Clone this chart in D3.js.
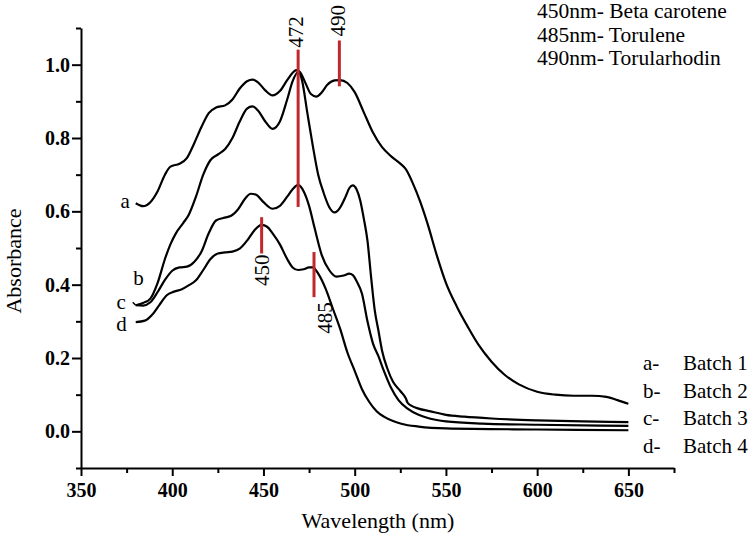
<!DOCTYPE html>
<html><head><meta charset="utf-8">
<script src="https://cdn.jsdelivr.net/npm/d3@7"></script>
</head>
<body style="margin:0">
<svg id="chart" width="750" height="536"></svg>
<script>
// ---- data (wavelength nm, absorbance) ----
const batch1 = [[380,0.622],[384,0.614],[388,0.625],[392,0.655],[396,0.700],[399,0.722],[404,0.730],[408,0.745],[412,0.785],[416,0.830],[420,0.868],[424,0.883],[429,0.889],[433,0.905],[437,0.935],[441,0.955],[444,0.959],[447,0.952],[451,0.930],[455,0.916],[459,0.928],[463,0.958],[466,0.978],[468,0.985],[470,0.980],[473,0.950],[476,0.920],[479,0.913],[482,0.925],[485,0.945],[489,0.957],[492,0.958],[496,0.950],[500,0.925],[505,0.870],[510,0.815],[515,0.775],[520,0.750],[525,0.730],[528,0.715],[532,0.675],[536,0.625],[540,0.565],[545,0.480],[550,0.405],[556,0.340],[562,0.285],[568,0.235],[575,0.190],[582,0.155],[590,0.128],[600,0.108],[610,0.100],[620,0.097],[630,0.097],[638,0.094],[644,0.085],[650,0.075]];
const batch2 = [[380,0.344],[384,0.350],[388,0.362],[392,0.405],[396,0.470],[399,0.510],[402,0.540],[406,0.568],[409,0.590],[413,0.640],[417,0.700],[421,0.740],[425,0.755],[429,0.770],[433,0.800],[437,0.845],[441,0.880],[444,0.886],[447,0.875],[451,0.845],[455,0.825],[459,0.845],[463,0.905],[466,0.955],[469,0.980],[471,0.960],[474,0.870],[477,0.780],[480,0.700],[483,0.650],[486,0.612],[489,0.597],[492,0.610],[495,0.640],[497,0.663],[499,0.671],[501,0.660],[503,0.630],[505,0.580],[507,0.520],[509,0.420],[511,0.330],[513,0.275],[515,0.220],[518,0.170],[521,0.135],[525,0.110],[528,0.090],[529,0.078],[531,0.070],[535,0.062],[541,0.055],[550,0.045],[560,0.040],[575,0.035],[600,0.030],[625,0.027],[650,0.025]];
const batch3 = [[380,0.344],[384,0.343],[388,0.352],[392,0.380],[396,0.413],[400,0.438],[404,0.447],[408,0.449],[412,0.462],[416,0.490],[420,0.540],[424,0.575],[428,0.582],[432,0.587],[436,0.605],[440,0.635],[443,0.648],[446,0.645],[450,0.625],[455,0.607],[459,0.615],[463,0.640],[466,0.660],[469,0.672],[472,0.655],[475,0.615],[478,0.555],[482,0.480],[486,0.440],[490,0.422],[494,0.425],[497,0.430],[499,0.426],[501,0.410],[504,0.375],[507,0.300],[510,0.240],[513,0.205],[516,0.165],[520,0.118],[524,0.085],[529,0.062],[535,0.045],[541,0.035],[550,0.027],[570,0.021],[600,0.018],[650,0.015]];
const batch4 = [[380,0.298],[385,0.302],[389,0.318],[393,0.345],[397,0.371],[401,0.381],[405,0.387],[409,0.398],[413,0.412],[417,0.440],[421,0.470],[425,0.485],[429,0.488],[433,0.490],[437,0.498],[441,0.520],[445,0.548],[449,0.563],[452,0.558],[455,0.540],[459,0.510],[463,0.470],[466,0.447],[469,0.440],[472,0.442],[475,0.447],[477,0.447],[480,0.430],[484,0.390],[488,0.335],[492,0.280],[496,0.215],[500,0.165],[504,0.115],[508,0.080],[512,0.055],[516,0.040],[521,0.028],[526,0.020],[535,0.013],[550,0.008],[600,0.005],[650,0.003]];
const seriesLetters = ["a","b","c","d"];
const legendNames = ["Batch 1","Batch 2","Batch 3","Batch 4"];
const xMajorTicks = [350,400,450,500,550,600,650];
const xMinorTicks = [375,425,475,525,575,625,675];
const yMajorTicks = [0.0,0.2,0.4,0.6,0.8,1.0];
const yMinorTicks = [-0.1,0.1,0.3,0.5,0.7,0.9,1.1];
// peak markers: position nm, absorbance from/to, label
const markerPos = [469, 491.6, 449, 477.7];
const markerFrom = [0.612, 0.941, 0.485, 0.366];
const markerTo = [1.041, 1.066, 0.584, 0.489];
const markerText = ["472","490","450","485"];
const peakNotes = ["450nm- Beta carotene","485nm- Torulene","490nm- Torularhodin"];

const FONT = "Liberation Serif";
const svg = d3.select("#chart");
const x = d3.scaleLinear().domain([350,675]).range([81,674]);
const y = d3.scaleLinear().domain([-0.1,1.1]).range([468,28]);

function txt(sel){ return sel.attr("font-family",FONT).style("font-family",FONT); }

// axes
const gx = svg.append("g").attr("transform","translate(0,468)")
  .call(d3.axisBottom(x).tickValues(xMajorTicks).tickFormat(d3.format("d")).tickSize(8).tickSizeOuter(0).tickPadding(4));
svg.append("g").attr("transform","translate(0,468)")
  .call(d3.axisBottom(x).tickValues(xMinorTicks).tickFormat("").tickSize(5).tickSizeOuter(0))
  .select(".domain").remove();
const gy = svg.append("g").attr("transform","translate(81,0)")
  .call(d3.axisLeft(y).tickValues(yMajorTicks).tickFormat(d3.format(".1f")).tickSize(9).tickSizeOuter(0).tickPadding(2));
svg.append("g").attr("transform","translate(81,0)")
  .call(d3.axisLeft(y).tickValues(yMinorTicks).tickFormat("").tickSize(5).tickSizeOuter(0))
  .select(".domain").remove();
svg.selectAll("g").attr("font-family",FONT);
svg.selectAll(".domain").attr("stroke","#000").attr("stroke-width",2);
svg.selectAll(".tick line").attr("stroke","#000").attr("stroke-width",2);
txt(svg.selectAll(".tick text")).attr("font-size",20).attr("font-weight","bold").attr("fill","#000");
gx.selectAll(".tick text").attr("dy","0.85em");

// axis titles
txt(svg.append("text")).attr("x",378).attr("y",528).attr("text-anchor","middle")
  .attr("font-size",22).text("Wavelength (nm)");
txt(svg.append("text")).attr("transform","translate(21,261) rotate(-90)").attr("text-anchor","middle")
  .attr("font-size",22).text("Absorbance");

// curves
const line = d3.line().x(d=>x(d[0])).y(d=>y(d[1])).curve(d3.curveMonotoneX);
const allSeries = [batch1,batch2,batch3,batch4];
svg.append("g").selectAll("path").data(allSeries).join("path")
  .attr("d",line).attr("fill","none").attr("stroke","#000").attr("stroke-width",2.2);

// series letters near curve starts
const letterDx = [-6,8,-10,-9];
const letterDy = [5,-20,4,9];
txt(svg.append("g").selectAll("text").data(allSeries).join("text"))
  .attr("x",(d,i)=>x(d[0][0])+letterDx[i]).attr("y",(d,i)=>y(d[0][1])+letterDy[i])
  .attr("text-anchor","end").attr("font-size",21)
  .text((d,i)=>seriesLetters[i]);
// small hook on curve c start
svg.append("path").attr("d",`M${x(380)-3},${y(0.352)} L${x(380)},${y(0.344)}`).attr("stroke","#000").attr("stroke-width",1.5);

// red peak markers
const mk = svg.append("g");
markerPos.forEach((p,i)=>{
  mk.append("line").attr("x1",x(p)).attr("x2",x(p)).attr("y1",y(markerFrom[i])).attr("y2",y(markerTo[i]))
    .attr("stroke","#c1272d").attr("stroke-width",3);
});
[[0,-2,-2],[1,-1,-4]].forEach(([i,dx,dy])=>{
  txt(mk.append("text")).attr("transform",`translate(${x(markerPos[i])+7+dx},${y(markerTo[i])+dy}) rotate(-90)`)
    .attr("text-anchor","start").attr("font-size",21).text(markerText[i]);
});
[[2,7,1],[3,18,5]].forEach(([i,dx,dy])=>{
  txt(mk.append("text")).attr("transform",`translate(${x(markerPos[i])+dx},${y(markerFrom[i])+dy}) rotate(-90)`)
    .attr("text-anchor","end").attr("font-size",21).text(markerText[i]);
});

// top-right notes
txt(svg.append("g").selectAll("text").data(peakNotes).join("text"))
  .attr("x",537).attr("y",(d,i)=>18+i*23.5).attr("font-size",21.5).text(d=>d);

// bottom-right legend
const lg = svg.append("g");
legendNames.forEach((n,i)=>{
  txt(lg.append("text")).attr("x",643).attr("y",370+i*27.5).attr("font-size",21).text(seriesLetters[i]+"-");
  txt(lg.append("text")).attr("x",683).attr("y",370+i*27.5).attr("font-size",21).text(n);
});
</script>
</body></html>
